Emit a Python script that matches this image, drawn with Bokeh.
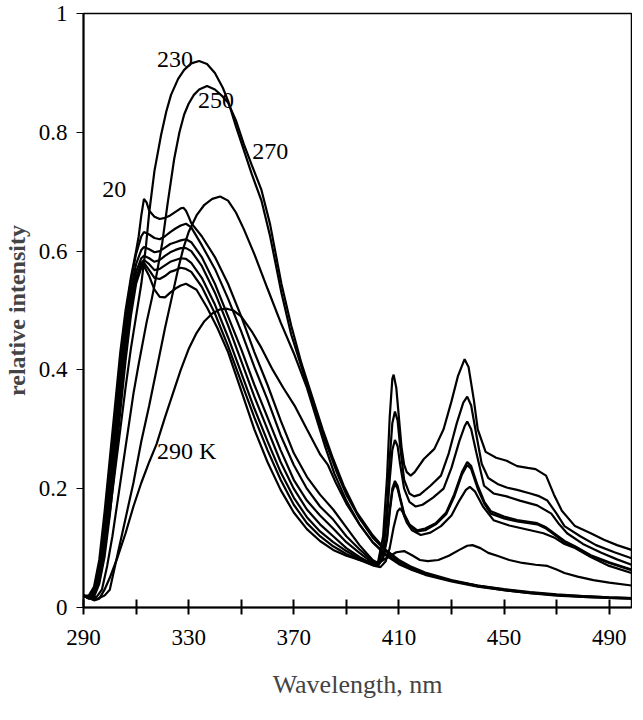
from bokeh.plotting import figure
from bokeh.models import Range1d, FixedTicker, ColumnDataSource
from bokeh.core.properties import value
from bokeh.embed import file_html
from bokeh.resources import INLINE

# ---------------- data ----------------
WL_20 = [290, 292, 294, 296, 298, 300, 302, 304, 306, 308, 310, 311, 312, 313, 314, 315, 317, 319, 321, 323, 325, 327, 328, 329, 330, 331,
         335, 340, 345, 350, 355, 360, 365, 370, 375, 380, 385, 390, 395, 400, 402, 404, 405.5, 406.5, 407.5, 408, 409, 410, 411, 412, 413,
         414.5, 416, 419.5, 423.5, 427, 430, 432.5, 435, 436.5, 438.5, 440, 443, 447, 451, 455, 459, 462, 466, 469, 472, 477, 483, 488, 493, 498.5]
I_20 = [0.02, 0.02, 0.035, 0.08, 0.16, 0.25, 0.34, 0.43, 0.50, 0.555, 0.60, 0.625, 0.66, 0.688, 0.682, 0.668, 0.658, 0.654, 0.656, 0.66, 0.666, 0.672, 0.673, 0.668, 0.658, 0.647,
        0.625, 0.59, 0.545, 0.49, 0.43, 0.375, 0.315, 0.26, 0.22, 0.19, 0.165, 0.135, 0.105, 0.08, 0.075, 0.12, 0.22, 0.32, 0.385, 0.392, 0.37, 0.32, 0.27, 0.24, 0.228,
        0.222, 0.228, 0.25, 0.267, 0.30, 0.347, 0.39, 0.418, 0.405, 0.35, 0.30, 0.262, 0.252, 0.247, 0.238, 0.235, 0.233, 0.222, 0.19, 0.163, 0.137, 0.125, 0.114, 0.105, 0.097]

WL_50 = [290, 292, 294, 296, 298, 300, 302, 304, 306, 308, 310, 312, 313, 315, 317, 319, 321, 323, 325, 327, 329, 331, 335, 340, 345, 350, 355, 360,
         365, 370, 375, 380, 385, 390, 395, 400, 402, 404, 405.5, 406.5, 407.5, 408.5, 409.5, 410.5, 412, 414, 415.8, 418, 422, 426, 429, 432, 434.5,
         436, 437.5, 439.5, 441.5, 444, 447.5, 451, 455, 460, 463, 466.5, 470, 473, 479, 485, 492, 498.5]
I_50 = [0.02, 0.018, 0.03, 0.07, 0.14, 0.23, 0.32, 0.41, 0.49, 0.55, 0.595, 0.625, 0.632, 0.628, 0.622, 0.62, 0.625, 0.632, 0.638, 0.643, 0.646, 0.64, 0.61, 0.57, 0.52, 0.465, 0.405, 0.35,
        0.29, 0.24, 0.20, 0.17, 0.148, 0.12, 0.098, 0.078, 0.073, 0.10, 0.17, 0.25, 0.31, 0.33, 0.315, 0.27, 0.215, 0.192, 0.187, 0.19, 0.205, 0.222, 0.26, 0.31, 0.345,
        0.355, 0.34, 0.29, 0.242, 0.218, 0.208, 0.202, 0.198, 0.192, 0.188, 0.18, 0.158, 0.137, 0.12, 0.105, 0.093, 0.083]

WL_80 = [290, 292, 294, 296, 298, 300, 302, 304, 306, 308, 310, 312, 313, 315, 317, 319, 321, 323, 325, 327, 329, 331, 335, 340, 345, 350, 355, 360,
         365, 370, 375, 380, 385, 390, 395, 400, 402, 404, 405.5, 406.5, 407.5, 408.5, 409.5, 410.5, 412, 414, 416.4, 419, 423, 427, 430, 433, 435,
         436, 437.5, 439.5, 442.4, 446, 451, 456, 462.6, 468, 471, 474, 480, 487, 493, 498.5]
I_80 = [0.02, 0.017, 0.028, 0.062, 0.125, 0.21, 0.30, 0.39, 0.47, 0.535, 0.578, 0.602, 0.607, 0.603, 0.598, 0.60, 0.606, 0.612, 0.615, 0.618, 0.62, 0.615, 0.59, 0.545, 0.49, 0.435, 0.375, 0.32,
        0.265, 0.215, 0.18, 0.155, 0.133, 0.11, 0.092, 0.075, 0.072, 0.095, 0.15, 0.215, 0.265, 0.282, 0.272, 0.24, 0.20, 0.178, 0.17, 0.173, 0.185, 0.20, 0.235, 0.28, 0.305,
        0.313, 0.30, 0.26, 0.205, 0.192, 0.187, 0.18, 0.172, 0.158, 0.14, 0.125, 0.107, 0.092, 0.081, 0.072]

WL_110 = [290, 292, 294, 296, 298, 300, 302, 304, 306, 308, 310, 312, 313, 315, 317, 319, 321, 323, 325, 327, 329, 331, 335, 340, 345, 350, 355, 360,
          365, 370, 375, 380, 385, 390, 395, 400, 402, 404, 405.5, 406.5, 407.5, 408.5, 409.5, 410.5, 412, 414, 417, 420, 424, 428, 431, 434,
          436, 437.5, 440, 442.5, 445, 450, 455, 462.6, 466, 469, 473, 477, 483, 490, 498.5]
I_110 = [0.02, 0.016, 0.025, 0.055, 0.115, 0.195, 0.285, 0.375, 0.455, 0.52, 0.565, 0.588, 0.592, 0.588, 0.582, 0.585, 0.592, 0.598, 0.602, 0.605, 0.605, 0.60, 0.575, 0.53, 0.475, 0.415, 0.355, 0.30,
         0.245, 0.20, 0.165, 0.14, 0.12, 0.10, 0.085, 0.073, 0.07, 0.085, 0.12, 0.165, 0.20, 0.213, 0.205, 0.185, 0.158, 0.14, 0.13, 0.133, 0.142, 0.16, 0.19, 0.228,
         0.245, 0.238, 0.205, 0.178, 0.162, 0.153, 0.147, 0.142, 0.135, 0.125, 0.112, 0.103, 0.088, 0.076, 0.064]

WL_140 = [290, 292, 294, 296, 298, 300, 302, 304, 306, 308, 310, 312, 313, 315, 317, 319, 321, 323, 325, 327, 329, 331, 335, 340, 345, 350, 355, 360,
          365, 370, 375, 380, 385, 390, 395, 400, 402, 404, 405.5, 406.5, 407.5, 408.5, 409.5, 410.5, 412, 414, 417, 420, 424, 428, 431, 434,
          436, 437.5, 440, 442.5, 445, 450, 455, 462.6, 466, 469, 473, 477, 483, 490, 498.5]
I_140 = [0.02, 0.016, 0.022, 0.05, 0.105, 0.18, 0.27, 0.36, 0.44, 0.51, 0.555, 0.58, 0.585, 0.578, 0.568, 0.57, 0.576, 0.582, 0.585, 0.588, 0.587, 0.58, 0.555, 0.51, 0.455, 0.395, 0.335, 0.28,
         0.228, 0.185, 0.152, 0.128, 0.11, 0.095, 0.082, 0.072, 0.07, 0.083, 0.115, 0.16, 0.195, 0.208, 0.20, 0.182, 0.155, 0.138, 0.128, 0.13, 0.14, 0.157, 0.186, 0.224,
         0.24, 0.233, 0.20, 0.175, 0.158, 0.15, 0.145, 0.14, 0.133, 0.123, 0.11, 0.101, 0.087, 0.075, 0.063]

WL_170 = [290, 292, 294, 296, 298, 300, 302, 304, 306, 308, 310, 312, 313, 315, 317, 319, 321, 323, 325, 327, 329, 331, 335, 340, 345, 350, 355, 360,
          365, 370, 375, 380, 385, 390, 395, 400, 403, 405, 406.5, 408, 409.5, 410.5, 411.5, 413, 415, 418.3, 422, 426, 430, 433, 435.5, 437,
          439, 442, 446, 452, 460, 465, 469, 473, 477, 483, 490, 498.5]
I_170 = [0.02, 0.015, 0.02, 0.045, 0.095, 0.17, 0.255, 0.345, 0.43, 0.50, 0.55, 0.575, 0.58, 0.568, 0.555, 0.553, 0.558, 0.565, 0.568, 0.572, 0.57, 0.565, 0.54, 0.495, 0.44, 0.38, 0.32, 0.265,
         0.215, 0.173, 0.142, 0.12, 0.103, 0.09, 0.08, 0.071, 0.068, 0.078, 0.10, 0.135, 0.162, 0.167, 0.16, 0.143, 0.13, 0.122, 0.126, 0.137, 0.155, 0.18, 0.198, 0.203,
         0.195, 0.17, 0.147, 0.138, 0.13, 0.125, 0.118, 0.107, 0.10, 0.085, 0.07, 0.058]

WL_200 = [290, 292, 294, 296, 298, 300, 302, 304, 306, 308, 310, 312, 313, 315, 317, 319, 321, 323, 325, 327, 329, 333, 337, 341, 345, 350, 355, 360,
          365, 370, 375, 380, 385, 390, 395, 400, 403, 406, 409, 412, 415, 418, 421, 425, 429, 433, 436, 438, 441, 444, 447.4, 452, 457, 462,
          466.5, 470, 473, 478, 484, 490, 498.5]
I_200 = [0.02, 0.015, 0.018, 0.04, 0.085, 0.155, 0.24, 0.33, 0.415, 0.49, 0.545, 0.572, 0.575, 0.558, 0.535, 0.523, 0.522, 0.53, 0.537, 0.542, 0.545, 0.535, 0.505, 0.47, 0.43, 0.365, 0.30, 0.245,
         0.198, 0.16, 0.132, 0.112, 0.097, 0.087, 0.08, 0.076, 0.077, 0.085, 0.093, 0.095, 0.088, 0.08, 0.078, 0.08, 0.087, 0.097, 0.104, 0.105, 0.10, 0.092, 0.087, 0.08, 0.075, 0.072,
         0.07, 0.064, 0.058, 0.052, 0.046, 0.042, 0.037]

WL_230 = [290, 292, 294, 296, 298, 300, 302, 304, 306, 308, 310, 312, 313.8, 315, 317, 319.5, 321.5, 323.3, 326, 328.3, 331, 334, 337, 340, 343, 345, 348, 351,
          354, 357.7, 361, 365.3, 369, 374, 378, 382, 386.6, 390, 395, 400, 405, 410, 415, 420, 430, 440, 450, 460, 470, 480, 490, 498.5]
I_230 = [0.02, 0.017, 0.022, 0.05, 0.10, 0.16, 0.23, 0.30, 0.37, 0.435, 0.49, 0.545, 0.61, 0.665, 0.735, 0.795, 0.835, 0.863, 0.89, 0.905, 0.916, 0.92, 0.915, 0.90, 0.875, 0.853, 0.81, 0.77,
         0.73, 0.685, 0.625, 0.53, 0.46, 0.39, 0.335, 0.28, 0.225, 0.19, 0.15, 0.118, 0.095, 0.078, 0.066, 0.057, 0.045, 0.036, 0.029, 0.024, 0.021, 0.018, 0.016, 0.015]

WL_250 = [290, 292, 295, 297, 299, 301, 303, 305, 307, 309, 311, 314, 316, 318, 320, 322, 324.5, 326.5, 328.3, 330, 332, 334, 337, 340, 343, 345, 348, 351,
          354, 357.7, 361, 365.3, 369, 373, 377, 381, 385, 389, 394, 400, 405, 410, 415, 420, 430, 440, 450, 460, 470, 480, 490, 498.5]
I_250 = [0.02, 0.016, 0.018, 0.03, 0.07, 0.12, 0.18, 0.24, 0.30, 0.36, 0.41, 0.48, 0.52, 0.565, 0.615, 0.68, 0.755, 0.80, 0.83, 0.848, 0.863, 0.872, 0.878, 0.872, 0.86, 0.85, 0.82, 0.78,
         0.745, 0.703, 0.645, 0.545, 0.475, 0.41, 0.355, 0.30, 0.25, 0.205, 0.16, 0.122, 0.097, 0.08, 0.068, 0.059, 0.046, 0.037, 0.03, 0.025, 0.021, 0.019, 0.017, 0.016]

WL_270 = [290, 292, 295, 298, 300, 303, 306, 309, 312, 315, 318, 321, 323.5, 326, 328, 330, 333, 336, 339, 342, 345, 348, 351, 355, 360, 365, 370.3,
          375, 379, 382, 385.5, 390, 395, 400, 405, 410, 415, 420, 430, 440, 450, 460, 470, 480, 490, 498.5]
I_270 = [0.02, 0.016, 0.014, 0.02, 0.03, 0.09, 0.15, 0.21, 0.28, 0.34, 0.405, 0.47, 0.52, 0.57, 0.605, 0.632, 0.66, 0.678, 0.688, 0.692, 0.685, 0.665, 0.637, 0.595, 0.537, 0.48, 0.425,
         0.37, 0.313, 0.27, 0.225, 0.18, 0.14, 0.11, 0.088, 0.073, 0.063, 0.055, 0.044, 0.035, 0.029, 0.024, 0.02, 0.018, 0.016, 0.015]

WL_290 = [290, 292, 294, 296, 298, 300, 303, 306, 309, 312, 315, 317.8, 321, 324, 327, 330, 333, 336, 339, 342, 344.5, 347, 350, 354, 357.7, 362, 366,
          370.3, 375, 380, 383, 386, 390, 395, 400, 405, 410, 415, 420, 430, 440, 450, 460, 470, 480, 490, 498.5]
I_290 = [0.02, 0.016, 0.012, 0.015, 0.03, 0.05, 0.085, 0.125, 0.17, 0.21, 0.245, 0.275, 0.32, 0.36, 0.40, 0.435, 0.462, 0.482, 0.495, 0.502, 0.503, 0.50, 0.49, 0.465, 0.437, 0.40, 0.37,
         0.34, 0.30, 0.258, 0.24, 0.21, 0.175, 0.14, 0.11, 0.09, 0.075, 0.064, 0.056, 0.045, 0.037, 0.031, 0.026, 0.022, 0.019, 0.017, 0.016]

SERIES = [(WL_20, I_20), (WL_50, I_50), (WL_80, I_80), (WL_110, I_110), (WL_140, I_140), (WL_170, I_170),
          (WL_200, I_200), (WL_230, I_230), (WL_250, I_250), (WL_270, I_270), (WL_290, I_290)]

X_MAJOR = [290, 330, 370, 410, 450, 490]
X_MINOR = [310, 350, 390, 430, 470]
Y_TICKS = [0, 0.2, 0.4, 0.6, 0.8, 1.0]
Y_TICK_TEXT = {0: "0", 0.2: "0.2", 0.4: "0.4", 0.6: "0.6", 0.8: "0.8", 1.0: "1"}

LABEL_TEXT = ["230", "250", "270", "20", "290 K"]
LABEL_X = [318.0, 333.6, 354.2, 297.1, 318.0]
LABEL_Y = [0.922, 0.853, 0.767, 0.703, 0.263]

# ---------------- figure ----------------
SERIF = "Liberation Serif"
p = figure(frame_width=548, frame_height=594, min_border_left=81, min_border_right=1,
           min_border_top=13, min_border_bottom=99,
           x_range=Range1d(290, 498.5), y_range=Range1d(0, 1),
           output_backend="svg", toolbar_location=None)
p.background_fill_color = "white"
p.border_fill_color = "white"
p.outline_line_color = "black"
p.outline_line_width = 1.5
p.xgrid.visible = False
p.ygrid.visible = False

for wl, iv in SERIES:
    p.line(wl, iv, line_color="black", line_width=2.2)

src = ColumnDataSource(dict(x=LABEL_X, y=LABEL_Y, t=LABEL_TEXT))
p.text(x="x", y="y", text="t", source=src, text_font=value(SERIF), text_font_size="24px",
       text_baseline="middle", text_align="left", text_color="black")

xa = p.xaxis[0]
xa.ticker = FixedTicker(ticks=X_MAJOR, minor_ticks=X_MINOR)
xa.major_tick_in = 8
xa.major_tick_out = 7
xa.minor_tick_in = 8
xa.minor_tick_out = 7
xa.major_tick_line_width = 2
xa.minor_tick_line_width = 2
xa.axis_line_width = 2
xa.major_label_standoff = 15
xa.major_label_text_font = SERIF
xa.major_label_text_font_size = "23px"
xa.major_label_text_color = "black"
xa.axis_label = "Wavelength, nm"
xa.axis_label_text_font = SERIF
xa.axis_label_text_font_size = "26px"
xa.axis_label_text_font_style = "normal"
xa.axis_label_standoff = 22

ya = p.yaxis[0]
ya.ticker = FixedTicker(ticks=Y_TICKS, minor_ticks=[])
ya.major_label_overrides = Y_TICK_TEXT
ya.major_tick_in = 0
ya.major_tick_out = 7
ya.major_tick_line_width = 1
ya.axis_line_width = 2
ya.major_label_standoff = 9
ya.major_label_text_font = SERIF
ya.major_label_text_font_size = "23px"
ya.major_label_text_color = "black"
ya.axis_label = "relative intensity"
ya.axis_label_text_font = SERIF
ya.axis_label_text_font_size = "24px"
ya.axis_label_text_font_style = "bold"
ya.axis_label_standoff = 6

open("out.html", "w").write(file_html(p, INLINE))
